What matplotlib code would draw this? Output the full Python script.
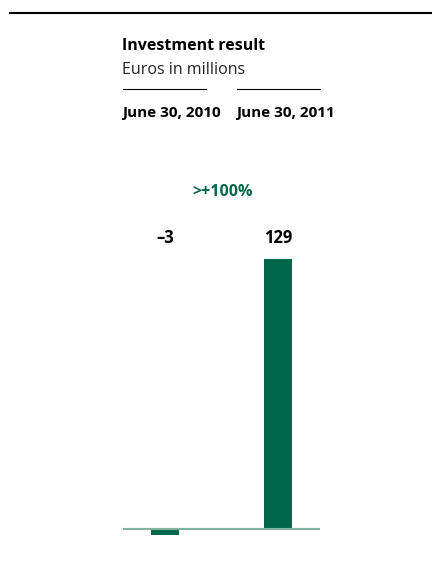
import matplotlib
matplotlib.use("Agg")
import matplotlib.pyplot as plt
from matplotlib.lines import Line2D

# data
periods = ["June 30, 2010", "June 30, 2011"]
values = [-3, 129]
value_labels = ["\u20133", "129"]
change_label = ">+100%"

bar_color = "#00684a"
base_color = "#7fb39d"

plt.rcParams["font.family"] = ["Open Sans", "DejaVu Sans"]

W, H = 432, 562
fig = plt.figure(figsize=(W / 100, H / 100), dpi=100)


def fx(px):
    return px / W


def fy(py):
    return 1 - py / H


# top rule
fig.add_artist(Line2D([fx(10), fx(432)], [fy(13), fy(13)], color="black", lw=1.5))

fig.text(fx(122), fy(46), "Investment result", fontsize=11.5, fontweight="bold", va="center", ha="left")
fig.text(fx(122), fy(70), "Euros in millions", fontsize=11.5, va="center", ha="left", color="#222222")

# short rules above dates
for x0, x1 in [(123, 206), (237, 320)]:
    fig.add_artist(Line2D([fx(x0), fx(x1)], [fy(89), fy(89)], color="black", lw=0.8))

fig.text(fx(122), fy(113), periods[0], fontsize=11, fontweight="bold", va="center", ha="left")
fig.text(fx(236), fy(113), periods[1], fontsize=11, fontweight="bold", va="center", ha="left")

# bar axes: pixel 123..320 horizontally, 259 (129) .. 535 (-3) vertically
ax = fig.add_axes([fx(123), fy(535), (320 - 123) / W, (535 - 259) / H])
step = 113.0
xs = [0, 1]
ax.bar(xs, values, width=28 / step, color=bar_color, zorder=2)
ax.axhline(0, color=base_color, lw=1.5, zorder=3)
ax.set_xlim(-42 / step, 1 + 42 / step)
ax.set_ylim(min(values), max(values))
ax.axis("off")

for x, lab in zip(xs, value_labels):
    ax.annotate(lab, (x, max(values)), xytext=(0, 21), textcoords="offset pixels",
                ha="center", va="center", fontsize=12, fontweight="bold", clip_on=False)

fig.text(fx(223), fy(192), change_label, fontsize=11.5, fontweight="bold", color=bar_color,
         ha="center", va="center")

fig.savefig("out.png", dpi=100)
